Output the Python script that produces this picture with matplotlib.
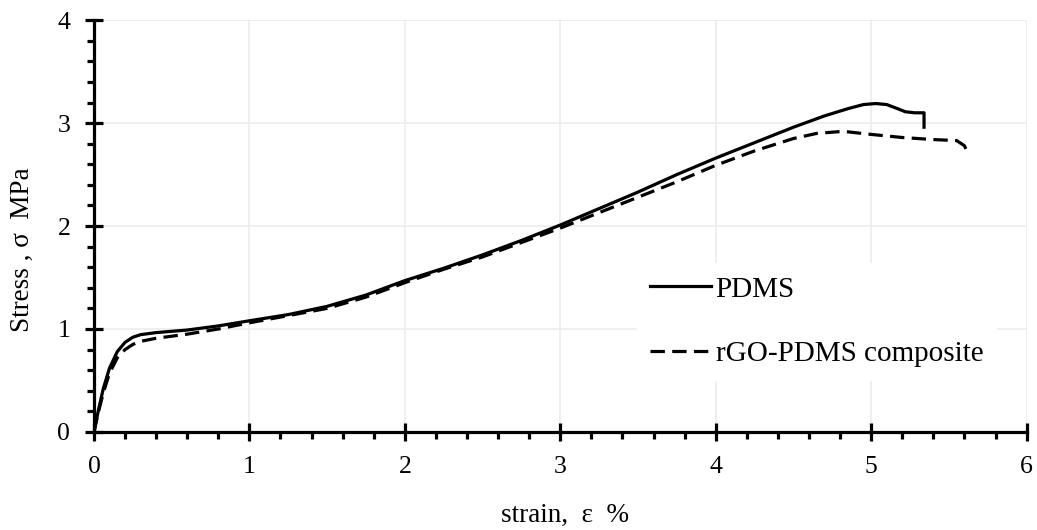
import matplotlib
matplotlib.use("Agg")
import matplotlib.pyplot as plt
from matplotlib.ticker import MultipleLocator

# PDMS (solid)
pdms_strain = [0.0, 0.03, 0.06, 0.10, 0.15, 0.20, 0.25, 0.30, 0.40, 0.60, 0.80, 1.0, 1.25, 1.5,
               1.75, 2.0, 2.25, 2.5, 2.75, 3.0, 3.25, 3.5, 3.75, 4.0, 4.25, 4.5, 4.7, 4.85,
               4.95, 5.03, 5.10, 5.17, 5.22, 5.28, 5.34, 5.34]
pdms_stress = [0.0, 0.22, 0.42, 0.62, 0.78, 0.87, 0.92, 0.945, 0.965, 0.99, 1.03, 1.08, 1.14, 1.22,
               1.33, 1.47, 1.59, 1.72, 1.86, 2.01, 2.17, 2.33, 2.50, 2.66, 2.81, 2.96, 3.07, 3.14,
               3.18, 3.19, 3.18, 3.14, 3.11, 3.10, 3.10, 2.96]

# rGO-PDMS composite (dashed)
rgo_strain = [0.0, 0.03, 0.06, 0.10, 0.15, 0.20, 0.25, 0.30, 0.40, 0.60, 0.80, 1.0, 1.25, 1.5,
              1.75, 2.0, 2.25, 2.5, 2.75, 3.0, 3.25, 3.5, 3.75, 4.0, 4.25, 4.5, 4.65, 4.82,
              5.0, 5.2, 5.4, 5.55, 5.6, 5.62]
rgo_stress = [0.0, 0.20, 0.38, 0.57, 0.72, 0.80, 0.85, 0.88, 0.91, 0.95, 1.00, 1.06, 1.13, 1.20,
              1.31, 1.45, 1.58, 1.70, 1.84, 1.98, 2.13, 2.28, 2.43, 2.59, 2.73, 2.85, 2.90, 2.92,
              2.89, 2.86, 2.84, 2.83, 2.78, 2.71]

plt.rcParams['font.family'] = ['Liberation Serif', 'DejaVu Serif']

fig = plt.figure(figsize=(10.37, 5.30), dpi=100)
ax = fig.add_axes([0.0906, 0.185, 0.8994, 0.777])

ax.plot(pdms_strain, pdms_stress, color='black', lw=2.3, label='PDMS')
ax.plot(rgo_strain, rgo_stress, color='black', lw=2.3, ls=(0, (4.5, 2.3)), label='rGO-PDMS composite')

ax.set_xlim(0, 6)
ax.set_ylim(0, 4)
ax.xaxis.set_major_locator(MultipleLocator(1))
ax.yaxis.set_major_locator(MultipleLocator(1))
ax.xaxis.set_minor_locator(MultipleLocator(0.2))
ax.yaxis.set_minor_locator(MultipleLocator(0.2))
ax.grid(True, which='major', color='#ececec', lw=1.2)
ax.set_axisbelow(True)

for s in ['top', 'right']:
    ax.spines[s].set_visible(False)
for s in ['left', 'bottom']:
    ax.spines[s].set_linewidth(2.3)

ax.tick_params(which='major', direction='inout', length=13, width=2.3, labelsize=18.5, pad=10.5)
ax.tick_params(which='minor', direction='out', length=5, width=2.3)

ax.set_xlabel('strain,  ε  %', fontsize=19.5, va='center')
ax.xaxis.set_label_coords(0.505, -0.2015)
ax.set_ylabel('Stress , σ  MPa', fontsize=19.5, va='center')
ax.yaxis.set_label_coords(-0.0772, 0.442)

leg = ax.legend(loc='upper left', bbox_to_anchor=(0.582, 0.410), borderaxespad=0,
                frameon=True, fontsize=21, fancybox=False,
                handlelength=2.1, handletextpad=0.15, labelspacing=1.3, borderpad=0.45)
leg.get_frame().set_edgecolor('white')
leg.get_frame().set_facecolor('white')
leg.get_frame().set_alpha(1)

fig.savefig('out.png', dpi=100)
